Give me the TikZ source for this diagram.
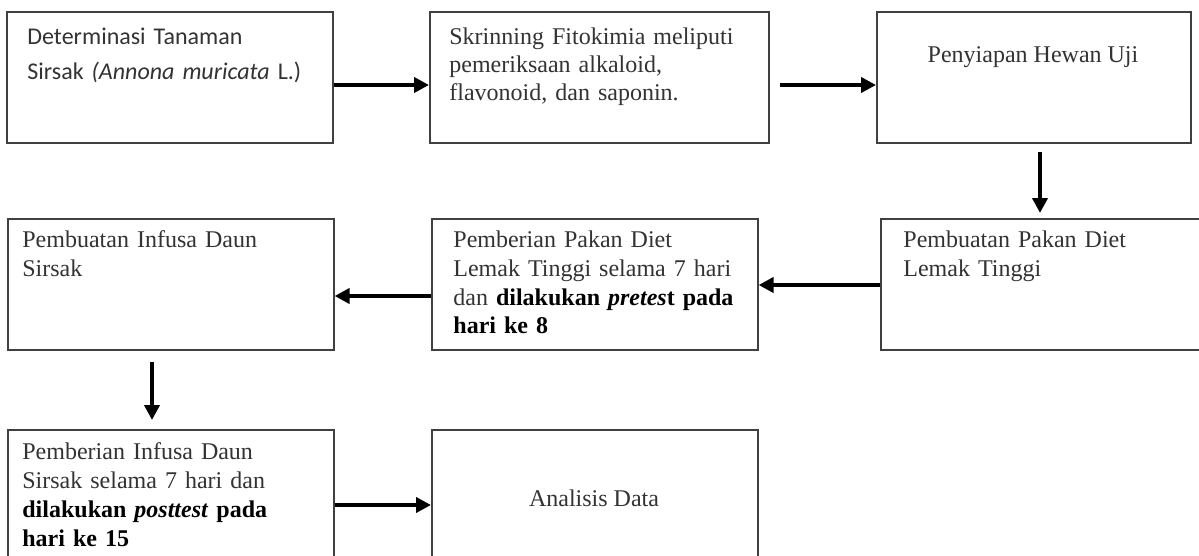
\documentclass[tikz,border=0pt]{standalone}
\usepackage{fontspec}
\setmainfont{Liberation Serif}
\newfontfamily\calibri{Carlito}
\usetikzlibrary{arrows.meta}
\begin{document}
\begin{tikzpicture}[x=0.5pt,y=-0.5pt,
  box/.style={draw=black!75,line width=0.8pt,inner sep=0pt,anchor=north west},
  arr/.style={line width=2pt,-{Triangle[length=7.5pt,width=7.5pt]}},
  txt/.style={inner sep=0pt,anchor=base west,align=left,text width=170pt,text=black!80,font=\fontsize{12pt}{14.5pt}\selectfont},
  ctxt/.style={inner sep=0pt,anchor=base,text=black!80,font=\fontsize{12pt}{14.5pt}\selectfont}]
\useasboundingbox[fill=white] (0,0) rectangle (1199,556);
% boxes
\node[box,minimum width=163pt,minimum height=65.5pt] (b1) at (6,11) {};
\node[box,minimum width=169.5pt,minimum height=65.5pt] (b2) at (429,11) {};
\node[box,minimum width=157pt,minimum height=65.5pt] (b3) at (876,11) {};
\node[box,minimum width=163pt,minimum height=65.5pt] (b4) at (7,218) {};
\node[box,minimum width=163pt,minimum height=65.5pt] (b5) at (431,218) {};
\node[box,minimum width=160pt,minimum height=65.5pt] (b6) at (880,218) {};
\node[box,minimum width=163pt,minimum height=68pt] (b7) at (7,429) {};
\node[box,minimum width=163pt,minimum height=68pt] (b8) at (431,429) {};
% texts
\node[txt,font=\calibri\fontsize{12pt}{17.5pt}\selectfont] (t1) at (27,45) {Determinasi Tanaman\\Sirsak \textit{(Annona muricata} L.)};
\node[txt,font=\fontsize{12pt}{14pt}\selectfont] (t2) at (449,45) {Skrinning Fitokimia meliputi\\pemeriksaan alkaloid,\\flavonoid, dan saponin.};
\node[ctxt] (t3) at (1033,63) {Penyiapan Hewan Uji};
\node[txt] (t4) at (22,247) {Pembuatan Infusa Daun\\Sirsak};
\node[txt] (t5) at (453,247) {Pemberian Pakan Diet\\Lemak Tinggi selama 7 hari\\dan \textcolor{black}{\textbf{dilakukan \textit{pretes}t pada}}\\\textcolor{black}{\textbf{hari ke 8}}};
\node[txt] (t6) at (903,247) {Pembuatan Pakan Diet\\Lemak Tinggi};
\node[txt] (t7) at (22,459) {Pemberian Infusa Daun\\Sirsak selama 7 hari dan\\\textcolor{black}{\textbf{dilakukan \textit{posttest} pada}}\\\textcolor{black}{\textbf{hari ke 15}}};
\node[ctxt] (t8) at (594,506) {Analisis Data};
% connectors
\coordinate (r1) at (0,85);
\draw[arr] (b1.east |- r1) -- (b2.west |- r1);
\coordinate (a2s) at (780,85);
\draw[arr] (a2s) -- (b3.west |- r1);
\coordinate (a3s) at (1040,152);
\coordinate (a3e) at (1040,213);
\draw[arr] (a3s) -- (a3e);
\coordinate (r2) at (0,285);
\draw[arr] (b6.west |- r2) -- (b5.east |- r2);
\coordinate (r3) at (0,296);
\draw[arr] (b5.west |- r3) -- (b4.east |- r3);
\coordinate (a6s) at (152,362);
\coordinate (a6e) at (152,420);
\draw[arr] (a6s) -- (a6e);
\coordinate (r4) at (0,505);
\draw[arr] (b7.east |- r4) -- (b8.west |- r4);
\end{tikzpicture}
\end{document}
